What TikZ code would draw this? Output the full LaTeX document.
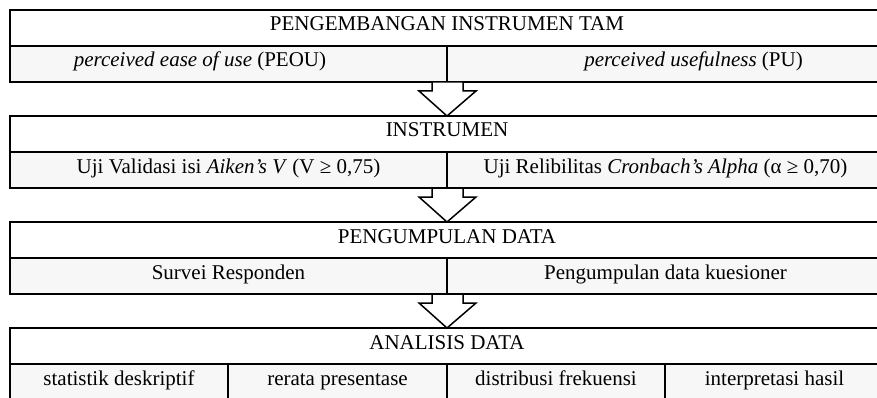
\documentclass[tikz,border=0pt]{standalone}
\usepackage{fontspec}
\setmainfont{Liberation Serif}
\usetikzlibrary{calc}
\begin{document}
\begin{tikzpicture}[x=1pt,y=-1pt,
  cell/.style={draw=black, line width=1.5pt, rectangle, inner sep=0pt, outer sep=0pt,
    anchor=north west, text height=21pt, text depth=15pt, font=\fontsize{21}{25}\selectfont},
  titlecell/.style={cell, fill=white},
  subcell/.style={cell, fill=black!3},
  blockarrow/.style={draw=black, line width=1.5pt, fill=white, line join=miter}]
\useasboundingbox (0,0) rectangle (877,398);
\clip (0,0) rectangle (877,398);
% row 1
\node[titlecell, minimum width=874pt] (t1) at (10,10) {PENGEMBANGAN INSTRUMEN TAM};
\node[subcell, minimum width=437pt] (s1a) at (10,46) {\textit{perceived ease of use} (PEOU)\hspace*{57pt}};
\node[subcell, minimum width=437pt] (s1b) at (447,46) {\hspace*{56pt}\textit{perceived usefulness} (PU)};
% row 2
\node[titlecell, minimum width=874pt] (t2) at (10,116) {INSTRUMEN};
\node[subcell, minimum width=437pt] (s2a) at (10,152) {Uji Validasi isi \textit{Aiken’s V} (V ≥ 0,75)};
\node[subcell, minimum width=437pt] (s2b) at (447,152) {Uji Relibilitas \textit{Cronbach’s Alpha} (α ≥ 0,70)};
% row 3
\node[titlecell, minimum width=874pt] (t3) at (10,222) {PENGUMPULAN DATA};
\node[subcell, minimum width=437pt] (s3a) at (10,258) {Survei Responden};
\node[subcell, minimum width=437pt] (s3b) at (447,258) {Pengumpulan data kuesioner};
% row 4
\node[titlecell, minimum width=874pt] (t4) at (10,328) {ANALISIS DATA};
\node[subcell, minimum width=218pt] (s4a) at (10,364) {statistik deskriptif};
\node[subcell, minimum width=219pt] (s4b) at (228,364) {rerata presentase};
\node[subcell, minimum width=218pt] (s4c) at (447,364) {distribusi frekuensi};
\node[subcell, minimum width=219pt] (s4d) at (665,364) {interpretasi hasil};
% block arrows
\foreach \a/\b in {s1a/t2, s2a/t3, s3a/t4}{
  \draw[blockarrow] ($(\a.south east)+(-15,0)$) -- ++(0,9) -- ++(-13,0)
    -- (\b.north) -- ($(\a.south east)+(29,9)$) -- ++(-13,0) -- ++(0,-9) -- cycle;
}
\end{tikzpicture}
\end{document}
